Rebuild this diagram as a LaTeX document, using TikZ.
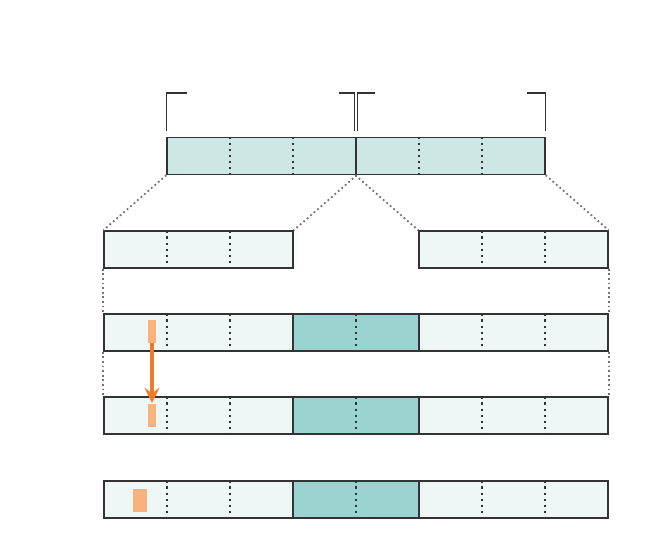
\documentclass[tikz,border=0pt]{standalone}
\usetikzlibrary{arrows.meta}
\definecolor{topfill}{HTML}{CCE7E4}
\definecolor{lightfill}{HTML}{EEF7F6}
\definecolor{darkfill}{HTML}{9BD3D0}
\definecolor{orfill}{HTML}{F9B27D}
\definecolor{orarrow}{HTML}{EE7B2B}
\definecolor{edge}{HTML}{333333}
\tikzset{
  seg/.style={draw=edge, line width=1.4pt, inner sep=0pt, minimum height=37pt},
  seg3/.style={seg, minimum width=189pt},
  seg2/.style={seg, minimum width=126pt},
  divider/.style={draw=edge, line width=2.2pt, dash pattern=on 2.2pt off 3.9pt},
  conn/.style={draw=black!55, line width=1.8pt, dash pattern=on 1.8pt off 2.8pt},
  brace/.style={draw=edge, line width=1.1pt},
  orbox/.style={fill=orfill, draw=none, inner sep=0pt},
  move/.style={draw=orarrow, line width=3.2pt, -{Stealth[length=15pt,width=15pt,inset=5.5pt]}}
}
\begin{document}
\begin{tikzpicture}[x=1pt,y=-1pt]
\useasboundingbox (0,0) rectangle (653,556);
% top bar
\node[seg3, fill=topfill] (tl) at (261.5,156) {};
\node[seg3, fill=topfill] (tr) at (450.5,156) {};
\foreach \n in {tl,tr} {
  \draw[divider] ([xshift=-31.5pt]\n.north) -- ([xshift=-31.5pt]\n.south);
  \draw[divider] ([xshift=31.5pt]\n.north) -- ([xshift=31.5pt]\n.south);
}
% brackets
\coordinate (b1) at (186.5,93);
\coordinate (b2) at (338.5,93);
\coordinate (b3) at (374.5,93);
\coordinate (b4) at (527,93);
\draw[brace] (b1) -| ([yshift=6pt]tl.north west);
\draw[brace] (b2) -| ([xshift=-2pt,yshift=6pt]tl.north east);
\draw[brace] (b3) -| ([xshift=2pt,yshift=6pt]tr.north west);
\draw[brace] (b4) -| ([yshift=6pt]tr.north east);
% row 2
\node[seg3, fill=lightfill] (a) at (198.5,249.5) {};
\node[seg3, fill=lightfill] (b) at (513.5,249.5) {};
\foreach \n in {a,b} {
  \draw[divider] ([xshift=-31.5pt]\n.north) -- ([xshift=-31.5pt]\n.south);
  \draw[divider] ([xshift=31.5pt]\n.north) -- ([xshift=31.5pt]\n.south);
}
% rows 3-5
\foreach \r/\y in {c/332.5,d/415.5,e/499.5} {
  \node[seg3, fill=lightfill] (\r l) at (198.5,\y) {};
  \node[seg2, fill=darkfill] (\r m) at (356,\y) {};
  \node[seg3, fill=lightfill] (\r r) at (513.5,\y) {};
  \draw[divider] ([xshift=-31.5pt]\r l.north) -- ([xshift=-31.5pt]\r l.south);
  \draw[divider] ([xshift=31.5pt]\r l.north) -- ([xshift=31.5pt]\r l.south);
  \draw[divider] (\r m.north) -- (\r m.south);
  \draw[divider] ([xshift=-31.5pt]\r r.north) -- ([xshift=-31.5pt]\r r.south);
  \draw[divider] ([xshift=31.5pt]\r r.north) -- ([xshift=31.5pt]\r r.south);
}
% connectors
\draw[conn] (tl.south west) -- (a.north west);
\draw[conn] (tl.south east) -- (a.north east);
\draw[conn] (tr.south west) -- (b.north west);
\draw[conn] (tr.south east) -- (b.north east);
\draw[conn] (a.south west) -- (cl.north west);
\draw[conn] (b.south east) -- (cr.north east);
\draw[conn] (cl.south west) -- (dl.north west);
\draw[conn] (cr.south east) -- (dr.north east);
% orange markers
\node[orbox, minimum width=8.5pt, minimum height=23pt] (o3) at (152,331.5) {};
\node[orbox, minimum width=8.5pt, minimum height=23pt] (o4) at (152,415.5) {};
\node[orbox, minimum width=14pt, minimum height=23pt] (o5) at (140,500.5) {};
\draw[move] (o3.south) -- ([yshift=1pt]o4.north);
\end{tikzpicture}
\end{document}
